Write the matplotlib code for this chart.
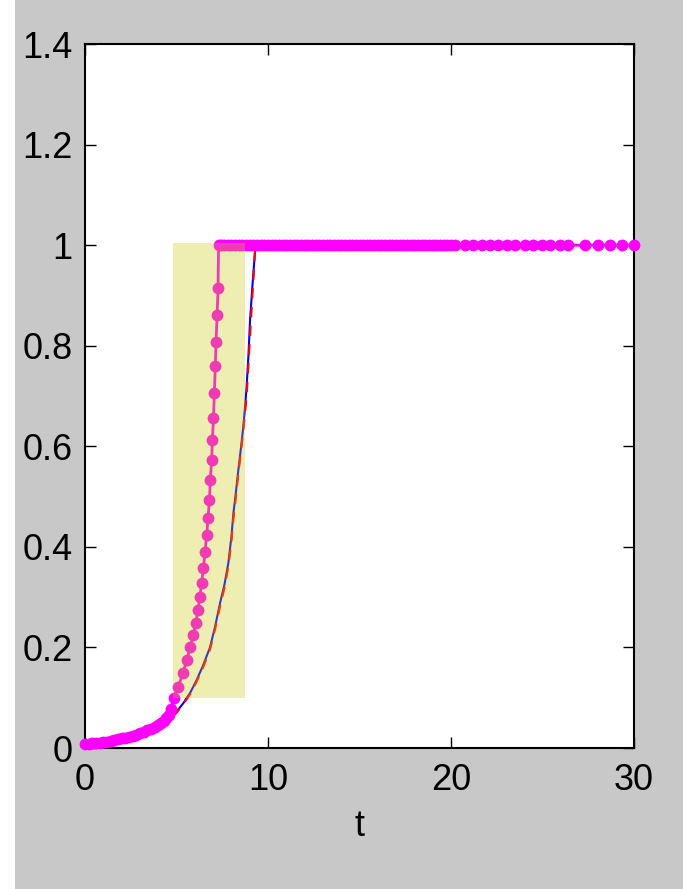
import matplotlib.pyplot as plt
from matplotlib.patches import Rectangle

plt.rcParams['font.family'] = ['Liberation Sans', 'DejaVu Sans']

# magenta curve (solver output, dots), rising part
mag_t = [0.0, 0.2, 0.4, 0.6, 0.8, 1.0, 1.2, 1.4, 1.6, 1.8, 2.0, 2.2, 2.4, 2.6, 2.8,
         3.0, 3.2, 3.4, 3.6, 3.8, 4.0, 4.15, 4.3, 4.45, 4.6, 4.72,
         4.85, 5.1, 5.35, 5.56, 5.75, 5.92, 6.05, 6.17, 6.28, 6.37, 6.47, 6.56,
         6.65, 6.72, 6.8, 6.85, 6.92, 6.96, 7.02, 7.07, 7.12, 7.16, 7.22, 7.27, 7.3]
mag_y = [0.008, 0.0085, 0.009, 0.0095, 0.010, 0.011, 0.012, 0.014, 0.015, 0.017,
         0.019, 0.020, 0.022, 0.024, 0.026, 0.029, 0.032, 0.035, 0.038, 0.042,
         0.046, 0.050, 0.054, 0.059, 0.066, 0.078,
         0.100, 0.122, 0.149, 0.175, 0.200, 0.224, 0.248, 0.274, 0.300, 0.328,
         0.357, 0.390, 0.424, 0.457, 0.493, 0.533, 0.573, 0.612, 0.656, 0.706,
         0.759, 0.808, 0.861, 0.914, 1.0]
# magenta curve, flat part at 1
flat_t = [7.45, 7.6, 7.8, 8.0, 8.2, 8.4, 8.6, 8.8, 9.0, 9.2, 9.4, 9.6, 9.8, 10.0,
          10.2, 10.4, 10.6, 10.8, 11.0, 11.2, 11.4, 11.6, 11.8, 12.0, 12.2, 12.4,
          12.6, 12.8, 13.0, 13.2, 13.4, 13.6, 13.8, 14.0, 14.2, 14.4, 14.6, 14.8,
          15.0, 15.2, 15.4, 15.6, 15.8, 16.0, 16.2, 16.4, 16.6, 16.8, 17.0, 17.2,
          17.4, 17.6, 17.8, 18.0, 18.2, 18.4, 18.6, 18.8, 19.0, 19.2, 19.4, 19.6,
          19.8, 20.0,
          20.22, 20.77, 21.22, 21.68, 22.13, 22.58, 23.04, 23.5, 24.04, 24.5,
          24.95, 25.41, 25.96, 26.41, 27.32, 28.05, 28.69, 29.33, 30.0]
flat_y = [1.0] * len(flat_t)

# blue solid curve
blue_t = [0.0, 1.0, 2.0, 3.0, 4.0, 4.64, 5.0, 5.37, 5.75, 6.1, 6.45, 6.83, 7.1,
          7.38, 7.62, 7.83, 8.0, 8.11, 8.25, 8.38, 8.52, 8.65, 8.75, 8.83, 8.93,
          9.02, 9.15, 9.29, 9.32, 30.0]
blue_y = [0.010, 0.013, 0.018, 0.027, 0.040, 0.059, 0.072, 0.089, 0.110, 0.135,
          0.164, 0.200, 0.240, 0.288, 0.325, 0.367, 0.420, 0.467, 0.510, 0.553,
          0.596, 0.639, 0.680, 0.718, 0.780, 0.851, 0.920, 0.987, 1.0, 1.0]

# red dashed curve
red_t = [0.0, 1.0, 2.0, 3.0, 4.0, 4.64, 5.0, 5.37, 5.75, 6.1, 6.45, 6.83, 7.1,
         7.38, 7.62, 7.83, 8.0, 8.11, 8.25, 8.38, 8.52, 8.65, 8.75, 8.83, 8.93,
         9.02, 9.15, 9.25, 9.3, 30.0]
red_y = [0.010, 0.013, 0.018, 0.027, 0.040, 0.058, 0.070, 0.087, 0.107, 0.132,
         0.160, 0.196, 0.235, 0.282, 0.318, 0.360, 0.410, 0.455, 0.500, 0.545,
         0.588, 0.630, 0.668, 0.700, 0.760, 0.820, 0.900, 0.960, 1.0, 1.0]

# highlighted box
box_t = [4.82, 8.74]
box_y = [0.10, 1.005]

fig = plt.figure(figsize=(6.83, 8.89), dpi=100, facecolor='white')
fig.patches.append(Rectangle((15 / 683, 0), 1, 1, transform=fig.transFigure,
                             facecolor='#c8c8c8', edgecolor='none', zorder=-10))
ax = fig.add_axes([85 / 683, 1 - 748 / 889, 549 / 683, 704 / 889])
ax.set_facecolor('white')

ax.plot(blue_t, blue_y, color='blue', lw=1.5, zorder=2)
ax.plot(red_t, red_y, color='red', lw=1.5, dashes=(5, 4), zorder=3)
ax.plot(mag_t + flat_t, mag_y + flat_y, color='magenta', lw=2, marker='o', ms=8.5,
        mew=0, zorder=4, clip_on=False)
ax.add_patch(Rectangle((box_t[0], box_y[0]), box_t[1] - box_t[0], box_y[1] - box_y[0],
                       facecolor=(205 / 255, 200 / 255, 0), alpha=0.3,
                       edgecolor='none', zorder=5))

ax.set_xlim(0, 30)
ax.set_ylim(0, 1.4)
ax.set_xticks([0, 10, 20, 30])
ax.set_yticks([0, 0.2, 0.4, 0.6, 0.8, 1.0, 1.2, 1.4])
ax.set_yticklabels(['0', '0.2', '0.4', '0.6', '0.8', '1', '1.2', '1.4'])
ax.tick_params(direction='in', top=True, right=True, length=8, width=1,
               labelsize=26)
ax.tick_params(axis='x', pad=11)
ax.tick_params(axis='y', pad=9)
for s in ax.spines.values():
    s.set_linewidth(1.5)
ax.set_xlabel('t', fontsize=26, labelpad=8)

fig.savefig('out.png', dpi=100, facecolor=fig.get_facecolor())
